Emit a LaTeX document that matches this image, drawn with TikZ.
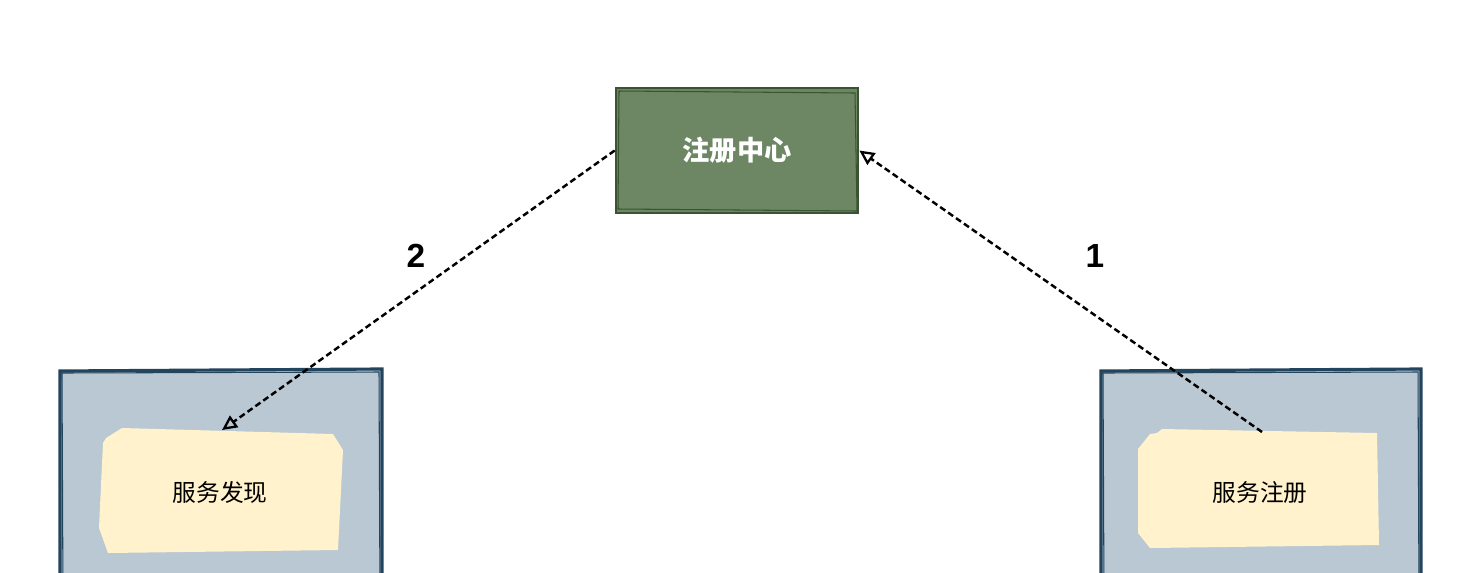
\documentclass[tikz,border=0pt]{standalone}
\usepackage{fontspec}
\newfontfamily\cjk{Noto Sans CJK SC}
\newfontfamily\lat{Liberation Sans}
\usetikzlibrary{arrows.meta}
\definecolor{gfill}{HTML}{6D8764}
\definecolor{gline}{HTML}{3A5431}
\definecolor{bfill}{HTML}{BAC8D3}
\definecolor{bline}{HTML}{23445D}
\definecolor{yfill}{HTML}{FFF2CC}
\tikzset{
  conn/.style={draw=black, line width=1.4pt, dash pattern=on 3.5pt off 2pt,
    -{Triangle[open, length=8.5pt, width=8pt, line width=1.3pt]}},
  lbl/.style={font=\cjk\fontsize{13.5}{16}\selectfont, text=black},
  num/.style={font=\lat\bfseries\fontsize{19}{22}\selectfont, text=black},
}
\begin{document}
\begin{tikzpicture}[x=0.02cm, y=-0.02cm]
\useasboundingbox (0,0) rectangle (1476,572);
\clip (0,0) rectangle (1476,572);
% gray containers
\fill[bfill] (60,370) rectangle (382,600);
\draw[bline, line width=1.8pt] (60,600) -- (60,371) -- (382,369) -- (382,600);
\draw[bline, line width=0.6pt] (63,600) -- (62,373) -- (379,372) -- (380,600);
\fill[bfill] (1101,370) rectangle (1421,600);
\draw[bline, line width=1.8pt] (1101,600) -- (1101,371) -- (1421,369) -- (1421,600);
\draw[bline, line width=0.6pt] (1104,600) -- (1103,373) -- (1418,372) -- (1419,600);
% yellow notes
\fill[yfill] (106,438) -- (122,428) -- (333,434) -- (343,450) -- (338,550) -- (108,553) -- (99,528) -- (103,443) -- cycle;
\fill[yfill] (1162,429) -- (1157,433) -- (1150,434) -- (1138,449) -- (1138,533) -- (1150,548) -- (1379,545) -- (1377,433) -- cycle;
\coordinate (lyt) at (222,430);
\coordinate (ryt) at (1262,432);
\node[lbl] (disc) at (220,492) {服务发现};
\node[lbl] (reg) at (1260,492) {服务注册};
% registry
\node[draw=gline, fill=gfill, line width=1.5pt, minimum width=242*0.02cm, minimum height=125*0.02cm, inner sep=0pt,
  font=\cjk\bfseries\fontsize{15.5}{18}\selectfont, text=white] (center) at (737,150.5) {注册中心};
\draw[gline, line width=0.6pt] (619,91) -- (855,93) -- (857,211) -- (618,209) -- cycle;
% connectors
\draw[conn] (ryt) -- (center.east);
\draw[conn] (center.west) -- (lyt);
\node[num] (n1) at (1095,256) {1};
\node[num] (n2) at (416,256) {2};
\end{tikzpicture}
\end{document}
